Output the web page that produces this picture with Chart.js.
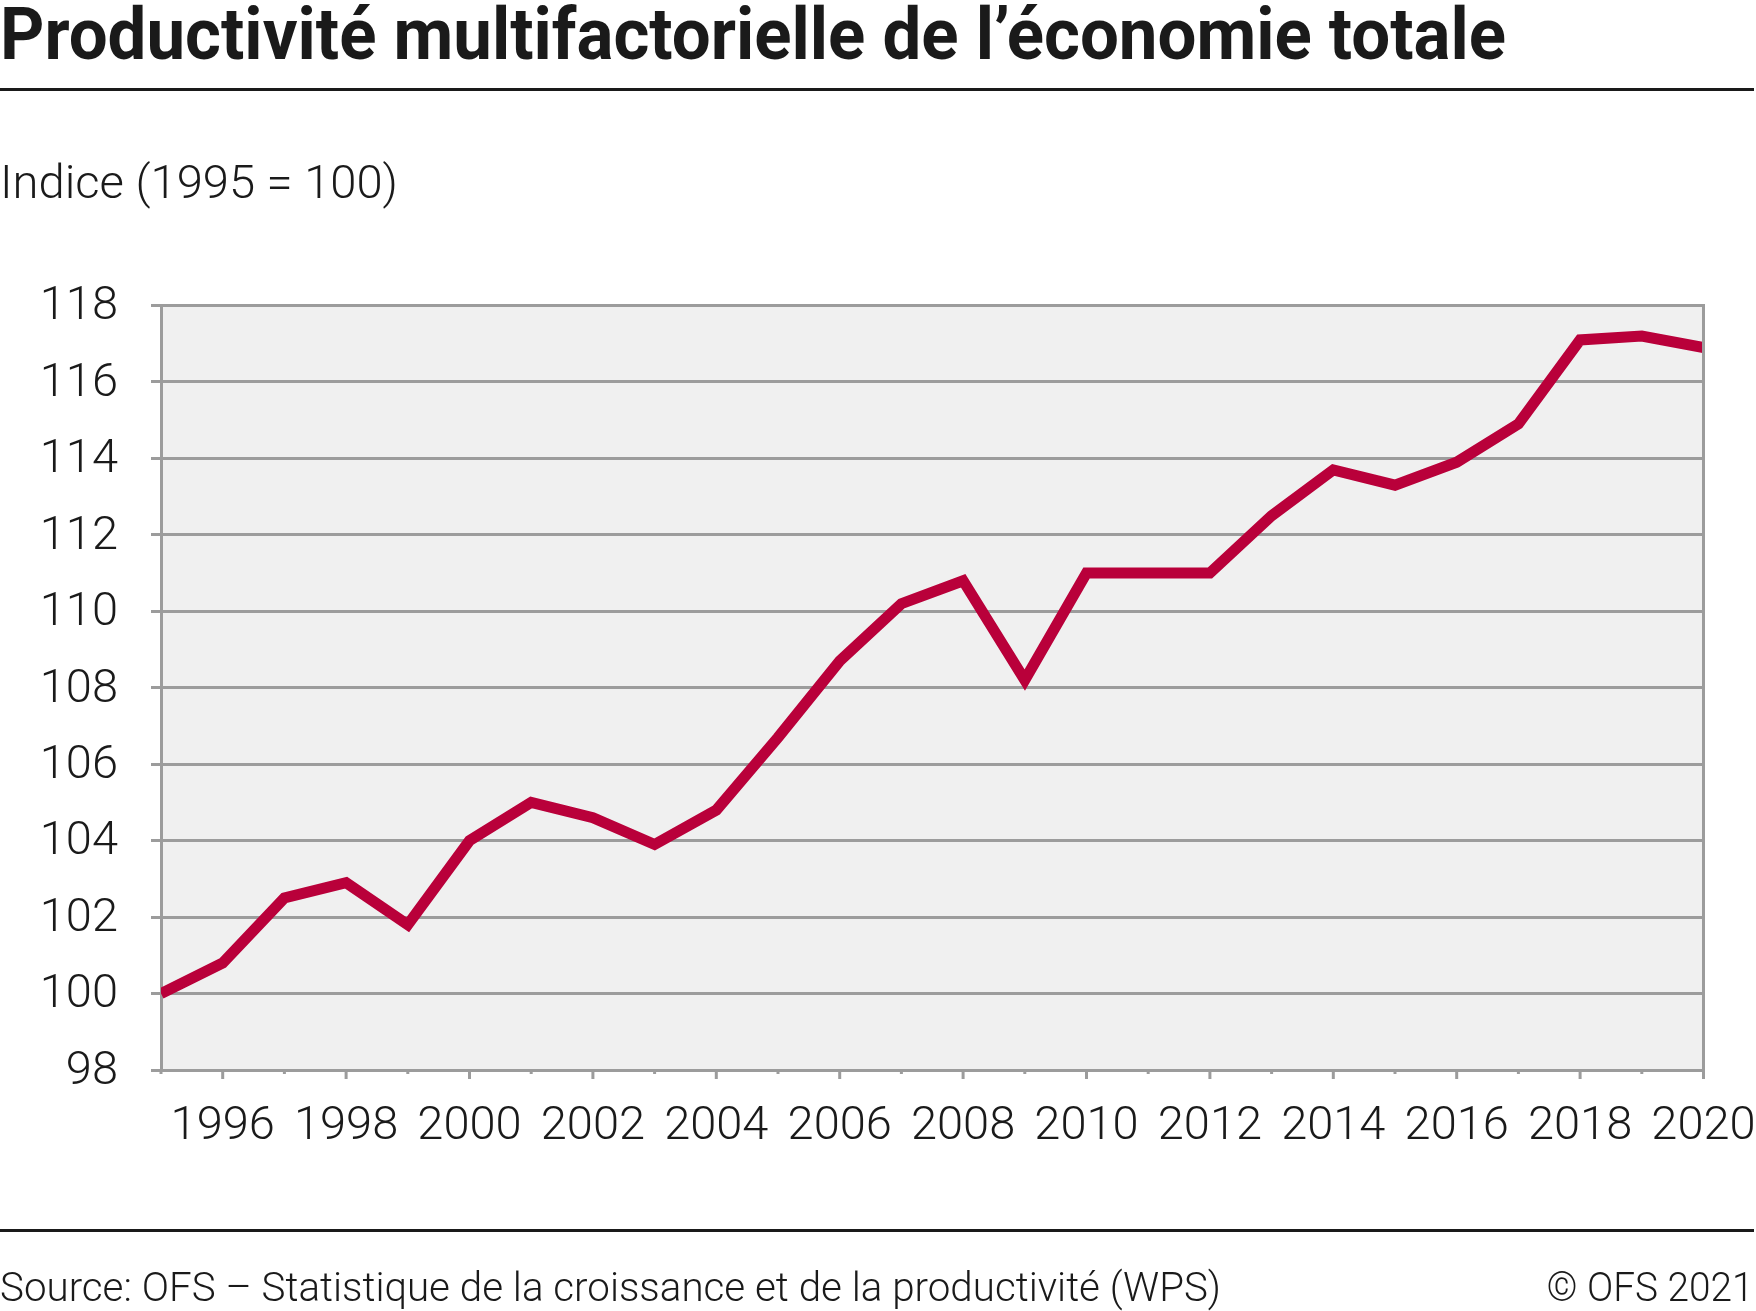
<!DOCTYPE html>
<html lang="fr">
<head>
<meta charset="utf-8">
<title>Productivité multifactorielle de l'économie totale</title>
<script src="https://cdn.jsdelivr.net/npm/chart.js@4/dist/chart.umd.min.js"></script>
<style>
  html, body { margin: 0; padding: 0; background: #ffffff; }
  #page { position: relative; width: 1756px; height: 1311px; overflow: hidden; background: #ffffff; font-family: Roboto, "Noto Sans", sans-serif; color: #1a1a1a; }
  #chart { position: absolute; left: 0; top: 0; }
  .txt { position: absolute; white-space: nowrap; line-height: 1; }
  #title { left: 0; top: -1px; font-size: 72px; font-weight: 700; transform-origin: 0 0; }
  #subtitle { left: 0; top: 159px; font-size: 46px; font-weight: 300; transform-origin: 0 0; }
  #source { left: 0; top: 1268px; font-size: 40px; font-weight: 300; transform-origin: 0 0; }
  #copy { right: 2px; top: 1268px; font-size: 40px; font-weight: 300; transform-origin: 100% 0; }
  .rule { position: absolute; left: 0; width: 1754px; height: 3px; background: #1a1a1a; }
</style>
</head>
<body>
<div id="page">
  <canvas id="chart" width="1756" height="1311"></canvas>
  <div id="title" class="txt">Productivité multifactorielle de l’économie totale</div>
  <div class="rule" style="top:88px"></div>
  <div id="subtitle" class="txt">Indice (1995 = 100)</div>
  <div class="rule" style="top:1229px"></div>
  <div id="source" class="txt">Source: OFS – Statistique de la croissance et de la productivité (WPS)</div>
  <div id="copy" class="txt">© OFS 2021</div>
</div>
<script>
// ---- Data ----
const years = [1995, 1996, 1997, 1998, 1999, 2000, 2001, 2002, 2003, 2004, 2005, 2006, 2007,
               2008, 2009, 2010, 2011, 2012, 2013, 2014, 2015, 2016, 2017, 2018, 2019, 2020];
const mfpIndex = [100.0, 100.8, 102.5, 102.9, 101.8, 104.0, 105.0, 104.6, 103.9, 104.8, 106.7, 108.7, 110.2,
                  110.8, 108.2, 111.0, 111.0, 111.0, 112.5, 113.7, 113.3, 113.9, 114.9, 117.1, 117.2, 116.9];
const xTickLabels = ['1996', '1998', '2000', '2002', '2004', '2006', '2008', '2010', '2012', '2014', '2016', '2018', '2020'];
const yTickLabels = ['98', '100', '102', '104', '106', '108', '110', '112', '114', '116', '118'];

const GRID = '#9c9c9c';
const TEXT = '#1a1a1a';
const LINE = '#b9003a';

const points = years.map((y, i) => ({ x: y, y: mfpIndex[i] }));

const framePlugin = {
  id: 'frame',
  beforeDraw(chart) {
    const { ctx, chartArea: a } = chart;
    ctx.save();
    ctx.fillStyle = '#f0f0f0';
    ctx.fillRect(a.left, a.top, a.right - a.left, a.bottom - a.top);
    ctx.restore();
  },
  afterDraw(chart) {
    const { ctx, chartArea: a } = chart;
    const xs = chart.scales.x;
    ctx.save();
    ctx.strokeStyle = GRID;
    ctx.lineWidth = 3;
    // right border
    ctx.beginPath();
    ctx.moveTo(a.right, a.top - 1.5);
    ctx.lineTo(a.right, a.bottom);
    ctx.stroke();
    // year tick marks below the x axis
    years.forEach(yr => {
      const px = xs.getPixelForValue(yr);
      const major = xTickLabels.includes(String(yr));
      ctx.beginPath();
      ctx.moveTo(px, a.bottom);
      ctx.lineTo(px, a.bottom + (major ? 9 : 4));
      ctx.stroke();
    });
    ctx.restore();
  }
};

new Chart(document.getElementById('chart'), {
  type: 'line',
  data: {
    datasets: [{
      data: points,
      borderColor: LINE,
      borderWidth: 11,
      pointRadius: 0,
      tension: 0,
      fill: false,
      clip: 0,
      borderJoinStyle: 'miter',
      borderCapStyle: 'butt'
    }]
  },
  options: {
    responsive: false,
    devicePixelRatio: 1,
    animation: false,
    layout: { padding: { left: 0, right: 52.5, top: 305.5, bottom: 0 } },
    plugins: { legend: { display: false }, tooltip: { enabled: false } },
    scales: {
      x: {
        type: 'linear',
        min: years[0],
        max: years[years.length - 1],
        ticks: {
          stepSize: 1,
          autoSkip: false,
          maxRotation: 0,
          minRotation: 0,
          padding: 29,
          color: TEXT,
          font: { family: 'Roboto', size: 47, weight: '300' },
          callback: v => xTickLabels.includes(String(v)) ? String(v) : ''
        },
        grid: { display: false, drawTicks: false },
        border: { display: true, color: GRID, width: 3 },
        afterFit(s) { s.height = 241; s.paddingLeft = 0; s.paddingRight = 0; }
      },
      y: {
        min: Number(yTickLabels[0]),
        max: Number(yTickLabels[yTickLabels.length - 1]),
        ticks: {
          stepSize: 2,
          padding: 33,
          labelOffset: 2,
          color: TEXT,
          font: { family: 'Roboto', size: 47, weight: '300' },
          callback: v => yTickLabels.includes(String(v)) ? String(v) : ''
        },
        grid: { color: GRID, lineWidth: 3, tickLength: 10, drawTicks: true },
        border: { display: true, color: GRID, width: 3 },
        afterFit(s) { s.width = 161; s.paddingTop = 0; s.paddingBottom = 0; }
      }
    }
  },
  plugins: [framePlugin]
});

// fit text widths to the reference layout
function fitText(id, target) {
  const el = document.getElementById(id);
  el.style.transform = 'none';
  const w = el.getBoundingClientRect().width;
  if (w > 0) el.style.transform = 'scaleX(' + (target / w) + ')';
}
function fitAll() {
  fitText('title', 1506);
  fitText('subtitle', 398);
  fitText('source', 1221);
  fitText('copy', 207);
}
fitAll();
if (document.fonts && document.fonts.ready) document.fonts.ready.then(fitAll);
</script>
</body>
</html>
